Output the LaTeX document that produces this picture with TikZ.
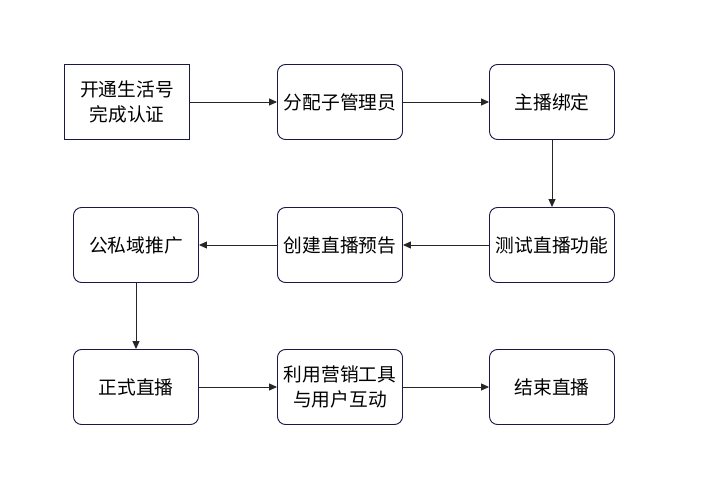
\documentclass[tikz,border=0pt]{standalone}
\usepackage{fontspec}
\setmainfont{Noto Sans CJK SC}
\usetikzlibrary{arrows.meta}
\begin{document}
\begin{tikzpicture}[x=1bp,y=-1bp,
  box/.style={draw=black!80!blue!90, line width=0.9bp, minimum width=125bp, minimum height=75bp, inner sep=0pt, align=center, font=\fontsize{18.8}{25}\selectfont, rounded corners=8bp},
  sqbox/.style={box, rounded corners=0pt},
  conn/.style={draw=black!85, line width=0.9bp, -{Triangle[length=8bp,width=7bp]}}]
\useasboundingbox (0,0) rectangle (720,488);
\node[sqbox] (a) at (127,102) {开通生活号\\完成认证};
\node[box] (b) at (340,102) {分配子管理员};
\node[box] (c) at (552,102) {主播绑定};
\node[box] (d) at (552,245) {测试直播功能};
\node[box] (e) at (340,245) {创建直播预告};
\node[box] (f) at (136,245) {公私域推广};
\node[box] (g) at (136,387) {正式直播};
\node[box] (h) at (340,387) {利用营销工具\\与用户互动};
\node[box] (i) at (552,387) {结束直播};
\draw[conn] (a) -- (b);
\draw[conn] (b) -- (c);
\draw[conn] (c) -- (d);
\draw[conn] (d) -- (e);
\draw[conn] (e) -- (f);
\draw[conn] (f) -- (g);
\draw[conn] (g) -- (h);
\draw[conn] (h) -- (i);
\end{tikzpicture}
\end{document}
